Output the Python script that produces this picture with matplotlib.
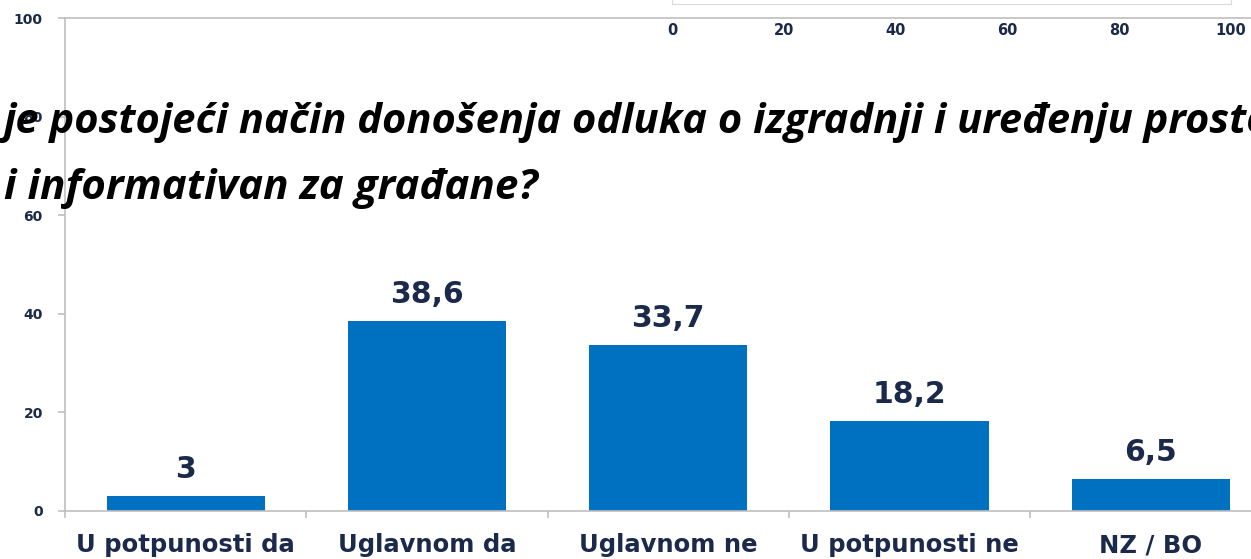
import matplotlib.pyplot as plt

# Data
categories = ["U potpunosti da", "Uglavnom da", "Uglavnom ne", "U potpunosti ne", "NZ / BO"]
values = [3, 38.6, 33.7, 18.2, 6.5]
value_labels = ["3", "38,6", "33,7", "18,2", "6,5"]
y_ticks = [0, 20, 40, 60, 80, 100]
inset_ticks = [0, 20, 40, 60, 80, 100]
title_lines = [
    "je postojeći način donošenja odluka o izgradnji i uređenju prosto",
    "i informativan za građane?",
]

navy = "#1B2A4A"
bar_color = "#0070C0"
grey = "#BFBFBF"

W, H = 1251, 559
fig = plt.figure(figsize=(W / 100, H / 100), dpi=100)

# main bar chart, plot area runs past the right edge like the cropped slide
ax = fig.add_axes([65 / W, (H - 511) / H, 1206.5 / W, (511 - 18) / H])
x = list(range(len(categories)))
ax.bar(x, values, width=0.656, color=bar_color, zorder=2)
ax.set_xlim(-0.5, len(categories) - 0.5)
ax.set_ylim(0, 100)

for xi, v, lab in zip(x, values, value_labels):
    ax.annotate(lab, (xi, v), xytext=(0, 8.5), textcoords="offset points",
                ha="center", va="bottom", fontsize=21.5, fontweight="bold",
                color=navy, family="DejaVu Sans")

ax.axhline(100, color=grey, lw=1.2, clip_on=False)
for side in ["top", "right"]:
    ax.spines[side].set_visible(False)
for side in ["left", "bottom"]:
    ax.spines[side].set_color(grey)
    ax.spines[side].set_linewidth(1.2)

ax.set_yticks(y_ticks)
ax.set_yticklabels([str(t) for t in y_ticks])
ax.tick_params(axis="y", length=5, width=1.2, color=grey, pad=11,
               labelsize=10, labelcolor=navy)
for t in ax.get_yticklabels():
    t.set_fontweight("bold")

ax.set_xticks([i - 0.5 for i in range(len(categories) + 1)])
ax.set_xticklabels([])
ax.tick_params(axis="x", which="major", length=5, width=1.2, color=grey)
ax.set_xticks(x, minor=True)
ax.set_xticklabels(categories, minor=True)
ax.tick_params(axis="x", which="minor", length=0, pad=16,
               labelsize=17.5, labelcolor=navy)
for t in ax.get_xticklabels(minor=True):
    t.set_fontweight("bold")

# leftover axis of another chart at the top right
inset = fig.add_axes([672 / W, (H - 4) / H, 559 / W, 0.05])
inset.set_xlim(0, 100)
inset.set_yticks([])
inset.set_xticks(inset_ticks)
inset.set_facecolor("none")
for s in inset.spines.values():
    s.set_color("#D9D9D9")
inset.tick_params(axis="x", length=0, pad=14, labelsize=10.5, labelcolor=navy)
for t in inset.get_xticklabels():
    t.set_fontweight("bold")

# question text lying across the chart
title_font = ["Open Sans", "Lato", "DejaVu Sans"]
fig.text(3 / W, (H - 133) / H, title_lines[0], fontsize=30, fontweight="bold",
         fontstyle="italic", family=title_font, va="baseline", color="black")
fig.text(4 / W, (H - 199) / H, title_lines[1], fontsize=30.3, fontweight="bold",
         fontstyle="italic", family=title_font, va="baseline", color="black")

fig.savefig("out.png", dpi=100)
